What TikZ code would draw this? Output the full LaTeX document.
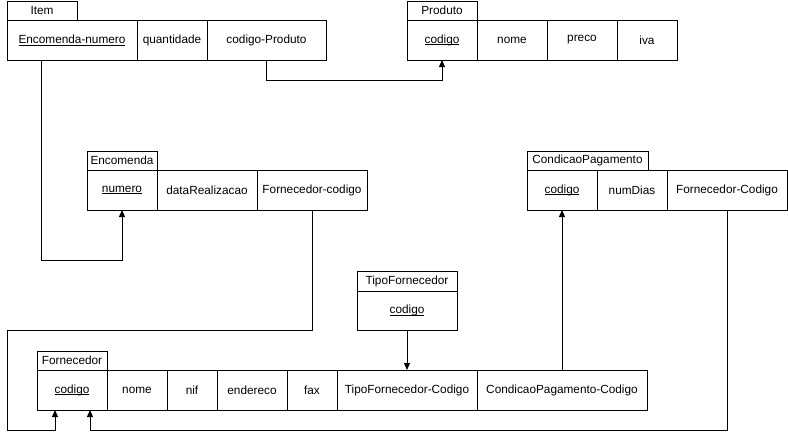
\documentclass[tikz,border=0pt]{standalone}
\usepackage{fontspec}
\setmainfont{Liberation Sans}
\usetikzlibrary{arrows.meta,calc}
\newcommand{\attrfont}{\fontsize{11.8}{14}\selectfont}
% primary-key underline, set just below the baseline
\newcommand{\pk}[1]{\setbox0\hbox{#1}\rlap{\rule[-2pt]{\wd0}{0.7pt}}\box0}
\begin{document}
\begin{tikzpicture}[x=1pt,y=-1pt,
  cell/.style={draw, line width=1pt, rectangle, inner sep=0pt, outer sep=0pt,
    anchor=north west, minimum height=40pt, font=\attrfont},
  tab/.style={draw, line width=1pt, rectangle, inner sep=0pt, outer sep=0pt,
    anchor=north west, minimum height=19pt, font=\attrfont},
  fk/.style={draw, line width=1pt, -{Triangle[length=7pt,width=6pt]}}]
\useasboundingbox (0,0) rectangle (788,439);

% Item
\node[tab, minimum width=70pt] (itab) at (7,1) {Item};
\node[cell, minimum width=130pt] (ien) at (7,20) {\pk{Encomenda-numero}};
\node[cell, minimum width=70pt] (iqt) at (137,20) {quantidade};
\node[cell, minimum width=119pt] (icp) at (207,20) {codigo-Produto};

% Produto
\node[tab, minimum width=70pt] (ptab) at (407,1) {Produto};
\node[cell, minimum width=70pt] (pcod) at (407,20) {\pk{codigo}};
\node[cell, minimum width=70pt] (pnom) at (477,20) {nome};
\node[cell, minimum width=70pt] (ppre) at (547,20) {preco};
\node[cell, minimum width=60pt] (piva) at (617,20) {iva};

% Encomenda
\node[tab, minimum width=70pt] (etab) at (87,151) {Encomenda};
\node[cell, minimum width=70pt] (enum) at (87,170) {\pk{numero}};
\node[cell, minimum width=100pt] (edat) at (157,170) {dataRealizacao};
\node[cell, minimum width=110pt] (efc) at (257,170) {Fornecedor-codigo};

% CondicaoPagamento
\node[tab, minimum width=121pt] (cptab) at (527,151) {CondicaoPagamento};
\node[cell, minimum width=70pt] (cpcod) at (527,170) {\pk{codigo}};
\node[cell, minimum width=70pt] (cpdias) at (597,170) {numDias};
\node[cell, minimum width=120pt] (cpfc) at (667,170) {Fornecedor-Codigo};

% TipoFornecedor
\node[tab, minimum width=100pt, minimum height=20pt] (ttab) at (357,271) {TipoFornecedor};
\node[cell, minimum width=100pt, minimum height=39pt] (tcod) at (357,291) {\pk{codigo}};

% Fornecedor
\node[tab, minimum width=70pt] (ftab) at (37,351) {Fornecedor};
\node[cell, minimum width=70pt] (fcod) at (37,370) {\pk{codigo}};
\node[cell, minimum width=60pt] (fnom) at (107,370) {nome};
\node[cell, minimum width=50pt] (fnif) at (167,370) {nif};
\node[cell, minimum width=70pt] (fend) at (217,370) {endereco};
\node[cell, minimum width=50pt] (ffax) at (287,370) {fax};
\node[cell, minimum width=140pt] (ftipo) at (337,370) {TipoFornecedor-Codigo};
\node[cell, minimum width=170pt] (fcond) at (477,370) {CondicaoPagamento-Codigo};

% bend points of the long connectors
\coordinate (encBend) at (7,330);
\coordinate (fcodInA) at ($(fcod.south west)+(18,0)$);
\coordinate (fcodInB) at ($(fcod.south west)+(53,0)$);

% foreign keys
\draw[fk] ($(ien.south west)+(34,0)$) |- ($(enum.south)+(0,50)$) -- (enum.south);
\draw[fk] (icp.south) |- ($(pcod.south)+(0,20)$) -- (pcod.south);
\draw[fk] (efc.south) |- (encBend) |- ($(fcodInA)+(0,20)$) -- (fcodInA);
\draw[fk] (tcod.south) -- (ftipo.north);
\draw[fk] (fcond.north) -- (cpcod.south);
\draw[fk] (cpfc.south) |- ($(fcodInB)+(0,20)$) -- (fcodInB);
\end{tikzpicture}
\end{document}
